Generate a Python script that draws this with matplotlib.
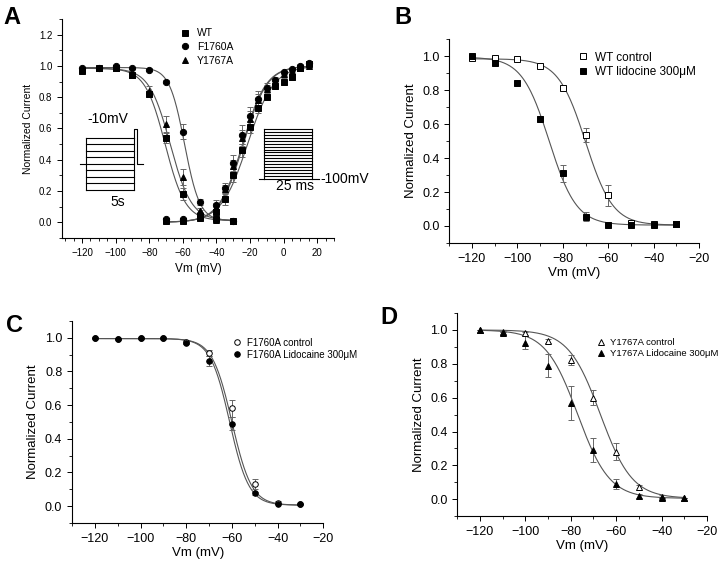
import numpy as np
import matplotlib
matplotlib.use('Agg')
import matplotlib.pyplot as plt
from matplotlib.ticker import MultipleLocator
from matplotlib.lines import Line2D

plt.rcParams['font.family'] = ['Liberation Sans', 'DejaVu Sans']

# ---------------- Panel A : activation / steady-state inactivation ----------------
vm_inact = [-120, -110, -100, -90, -80, -70, -60, -50, -40, -30]
a_inact_wt = [0.97, 0.99, 0.99, 0.94, 0.82, 0.54, 0.18, 0.04, 0.02, 0.01]
a_inact_wt_err = [0.01, 0.01, 0.01, 0.01, 0.02, 0.03, 0.04, 0.01, 0.01, 0.0]
a_inact_f = [0.99, 0.99, 1.0, 0.99, 0.975, 0.90, 0.58, 0.13, 0.02, 0.01]
a_inact_f_err = [0.0, 0.0, 0.0, 0.0, 0.01, 0.01, 0.05, 0.02, 0.01, 0.0]
a_inact_y = [0.98, 0.99, 0.99, 0.945, 0.84, 0.63, 0.29, 0.07, 0.015, 0.01]
a_inact_y_err = [0.01, 0.0, 0.01, 0.01, 0.03, 0.05, 0.05, 0.02, 0.01, 0.0]

vm_act = [-70, -60, -50, -40, -35, -30, -25, -20, -15, -10, -5, 0, 5, 10, 15]
a_act_wt = [0.01, 0.01, 0.03, 0.065, 0.15, 0.30, 0.46, 0.61, 0.73, 0.80, 0.87, 0.90, 0.93, 0.99, 1.01]
a_act_wt_err = [0.01, 0.01, 0.01, 0.03, 0.04, 0.04, 0.04, 0.04, 0.03, 0.02, 0.02, 0.02, 0.02, 0.01, 0.01]
a_act_f = [0.02, 0.02, 0.05, 0.11, 0.22, 0.38, 0.56, 0.68, 0.79, 0.86, 0.91, 0.96, 0.98, 1.0, 1.02]
a_act_f_err = [0.01, 0.01, 0.01, 0.03, 0.03, 0.05, 0.06, 0.06, 0.05, 0.03, 0.02, 0.01, 0.01, 0.01, 0.01]
a_act_y = [0.015, 0.02, 0.07, 0.10, 0.21, 0.36, 0.54, 0.66, 0.78, 0.85, 0.90, 0.95, 0.97, 0.99, 1.0]
a_act_y_err = [0.01, 0.01, 0.01, 0.02, 0.03, 0.04, 0.05, 0.05, 0.04, 0.03, 0.02, 0.01, 0.01, 0.01, 0.01]

# Boltzmann fit parameters (top, bottom, V1/2, k)
fit_a_inact = {'WT': (0.985, 0.01, -70.5, 6.0), 'F1760A': (0.99, 0.01, -59.0, 4.5),
               'Y1767A': (0.985, 0.01, -67.5, 6.3)}
fit_a_act = {'WT': (0.0, 1.0, -21.5, 7.8), 'F1760A': (0.0, 1.0, -24.5, 7.0),
             'Y1767A': (0.0, 1.0, -24.0, 7.0)}

# ---------------- Panel B : WT +/- lidocaine ----------------
vm_b = [-120, -110, -100, -90, -80, -70, -60, -50, -40, -30]
b_ctrl = [0.99, 0.99, 0.985, 0.945, 0.815, 0.535, 0.18, 0.02, 0.01, 0.01]
b_ctrl_err = [0.0, 0.0, 0.0, 0.01, 0.01, 0.04, 0.06, 0.01, 0.0, 0.0]
b_lido = [1.0, 0.96, 0.84, 0.63, 0.31, 0.055, 0.005, 0.005, 0.005, 0.01]
b_lido_err = [0.0, 0.01, 0.01, 0.02, 0.05, 0.025, 0.0, 0.0, 0.0, 0.0]
fit_b = {'ctrl': (0.985, 0.005, -70.0, 6.0), 'lido': (0.995, 0.005, -86.0, 6.0)}

# ---------------- Panel C : F1760A +/- lidocaine ----------------
vm_c = [-120, -110, -100, -90, -80, -70, -60, -50, -40, -30]
c_ctrl = [1.0, 0.99, 1.0, 1.0, 0.975, 0.91, 0.58, 0.13, 0.02, 0.01]
c_ctrl_err = [0.0, 0.0, 0.0, 0.0, 0.01, 0.02, 0.05, 0.03, 0.01, 0.0]
c_lido = [1.0, 0.99, 1.0, 1.0, 0.97, 0.86, 0.49, 0.075, 0.01, 0.01]
c_lido_err = [0.0, 0.0, 0.0, 0.0, 0.01, 0.03, 0.04, 0.01, 0.0, 0.0]
fit_c = {'ctrl': (0.995, 0.005, -60.0, 4.3), 'lido': (0.995, 0.005, -61.0, 4.2)}

# ---------------- Panel D : Y1767A +/- lidocaine ----------------
vm_d = [-120, -110, -100, -90, -80, -70, -60, -50, -40, -30]
d_ctrl = [1.0, 0.99, 0.98, 0.935, 0.825, 0.60, 0.28, 0.07, 0.015, 0.005]
d_ctrl_err = [0.0, 0.0, 0.01, 0.01, 0.03, 0.045, 0.05, 0.015, 0.01, 0.0]
d_lido = [1.0, 0.985, 0.925, 0.79, 0.57, 0.29, 0.09, 0.02, 0.005, 0.005]
d_lido_err = [0.0, 0.01, 0.04, 0.07, 0.10, 0.07, 0.03, 0.01, 0.0, 0.0]
fit_d = {'ctrl': (1.0, 0.005, -67.0, 7.0), 'lido': (1.0, 0.005, -77.0, 7.0)}


def boltz(v, top, bottom, vh, k):
    return bottom + (top - bottom) / (1.0 + np.exp((v - vh) / k))


LINE_C = '#555555'
ERR_C = '#666666'


def series(ax, x, y, err, marker, filled, ms, label=None):
    ax.errorbar(x, y, yerr=err, fmt='none', ecolor=ERR_C, elinewidth=0.7,
                capsize=2, capthick=0.7, zorder=2)
    ax.plot(x, y, linestyle='none', marker=marker, markersize=ms,
            markerfacecolor='black' if filled else 'white',
            markeredgecolor='black', markeredgewidth=0.7, zorder=3, label=label)


def style(ax, fs, xminor):
    ax.spines['top'].set_visible(False)
    ax.spines['right'].set_visible(False)
    ax.spines['left'].set_linewidth(0.8)
    ax.spines['bottom'].set_linewidth(0.8)
    ax.xaxis.set_major_locator(MultipleLocator(20))
    ax.xaxis.set_minor_locator(MultipleLocator(xminor))
    ax.yaxis.set_major_locator(MultipleLocator(0.2))
    ax.yaxis.set_minor_locator(MultipleLocator(0.1))
    ax.tick_params(which='major', length=3.5, width=0.7, labelsize=fs)
    ax.tick_params(which='minor', length=2, width=0.6)
    ax.yaxis.set_major_formatter(plt.FuncFormatter(lambda v, p: f'{v:.1f}'))


fig = plt.figure(figsize=(7.2, 5.61), dpi=100)

# ===== A =====
axA = fig.add_axes([0.086, 0.576, 0.378, 0.390])
v1 = np.linspace(-120, -30, 300)
v2 = np.linspace(-70, 15, 300)
for key in fit_a_inact:
    axA.plot(v1, boltz(v1, *fit_a_inact[key]), color=LINE_C, lw=0.8, zorder=1)
    axA.plot(v2, boltz(v2, *fit_a_act[key]), color=LINE_C, lw=0.8, zorder=1)
series(axA, vm_inact, a_inact_wt, a_inact_wt_err, 's', True, 4, 'WT')
series(axA, vm_inact, a_inact_f, a_inact_f_err, 'o', True, 4.5, 'F1760A')
series(axA, vm_inact, a_inact_y, a_inact_y_err, '^', True, 4.5, 'Y1767A')
series(axA, vm_act, a_act_wt, a_act_wt_err, 's', True, 4)
series(axA, vm_act, a_act_f, a_act_f_err, 'o', True, 4.5)
series(axA, vm_act, a_act_y, a_act_y_err, '^', True, 4.5)
axA.set_xlim(-132, 30)
axA.set_ylim(-0.1, 1.3)
style(axA, 7, 5)
axA.set_xlabel('Vm (mV)', fontsize=8.5)
axA.set_ylabel('Normalized Current', fontsize=7.5)
axA.legend(loc='upper left', bbox_to_anchor=(0.40, 1.0), frameon=False,
           fontsize=7.5, handletextpad=0.6, labelspacing=0.35, handlelength=1.0)

# voltage protocol insets (axes fraction)
tr = axA.transAxes
kw = dict(color='black', lw=0.8, transform=tr, clip_on=False)
lx0, lx1 = 0.088, 0.265
for fy in np.linspace(0.219, 0.457, 9):
    axA.add_line(Line2D([lx0, lx1], [fy, fy], **kw))
axA.add_line(Line2D([lx0, lx0], [0.219, 0.457], **kw))
axA.add_line(Line2D([lx1, lx1], [0.219, 0.457], **kw))
axA.add_line(Line2D([0.066, lx0], [0.338, 0.338], **kw))
axA.add_line(Line2D([lx1, lx1, 0.276, 0.276, 0.298], [0.457, 0.498, 0.498, 0.338, 0.338], **kw))
axA.text(0.17, 0.51, '-10mV', transform=tr, fontsize=10, ha='center', va='bottom')
axA.text(0.205, 0.165, '5s', transform=tr, fontsize=10, ha='center', va='center')

rx0, rx1 = 0.743, 0.919
for fy in np.linspace(0.269, 0.498, 18):
    axA.add_line(Line2D([rx0, rx1], [fy, fy], **kw))
axA.add_line(Line2D([rx0, rx0], [0.269, 0.498], **kw))
axA.add_line(Line2D([rx1, rx1], [0.269, 0.498], **kw))
axA.add_line(Line2D([0.724, rx0], [0.269, 0.269], **kw))
axA.add_line(Line2D([rx1, 0.945], [0.269, 0.269], **kw))
axA.text(0.95, 0.27, '-100mV', transform=tr, fontsize=10, ha='left', va='center')
axA.text(0.855, 0.235, '25 ms', transform=tr, fontsize=10, ha='center', va='center')


def drug_panel(rect, vm, ctrl, ctrl_err, lido, lido_err, fits, marker, labels,
               leg_anchor, leg_fs, fs, ms):
    ax = fig.add_axes(rect)
    vv = np.linspace(-120, -30, 300)
    ax.plot(vv, boltz(vv, *fits['ctrl']), color=LINE_C, lw=0.8, zorder=1)
    ax.plot(vv, boltz(vv, *fits['lido']), color=LINE_C, lw=0.8, zorder=1)
    series(ax, vm, ctrl, ctrl_err, marker, False, ms, labels[0])
    series(ax, vm, lido, lido_err, marker, True, ms, labels[1])
    ax.set_xlim(-130, -20)
    ax.set_ylim(-0.1, 1.1)
    style(ax, fs, 10)
    ax.set_xlabel('Vm (mV)', fontsize=9.5, labelpad=1.5)
    ax.set_ylabel('Normalized Current', fontsize=9.5)
    ax.legend(loc='upper left', bbox_to_anchor=leg_anchor, frameon=False, borderpad=0.2,
              fontsize=leg_fs, handletextpad=0.5, labelspacing=0.2, handlelength=1.0)
    return ax


axB = drug_panel([0.624, 0.567, 0.347, 0.363], vm_b, b_ctrl, b_ctrl_err, b_lido, b_lido_err,
                 fit_b, 's', ['WT control', 'WT lidocine 300\u03bcM'], (0.48, 0.98), 8.5, 9, 4)
axC = drug_panel([0.100, 0.068, 0.349, 0.360], vm_c, c_ctrl, c_ctrl_err, c_lido, c_lido_err,
                 fit_c, 'o', ['F1760A control', 'F1760A Lidocaine 300\u03bcM'], (0.61, 0.95), 7, 9, 4)
axD = drug_panel([0.635, 0.080, 0.347, 0.362], vm_d, d_ctrl, d_ctrl_err, d_lido, d_lido_err,
                 fit_d, '^', ['Y1767A control', 'Y1767A Lidocaine 300\u03bcM'], (0.53, 0.91), 6.8, 9, 4.5)

# panel letters
for lab, x, y in [('A', 0.005, 0.99), ('B', 0.548, 0.99), ('C', 0.008, 0.44), ('D', 0.528, 0.455)]:
    fig.text(x, y, lab, fontsize=17, fontweight='bold', ha='left', va='top')

fig.savefig('out.png', dpi=100)
